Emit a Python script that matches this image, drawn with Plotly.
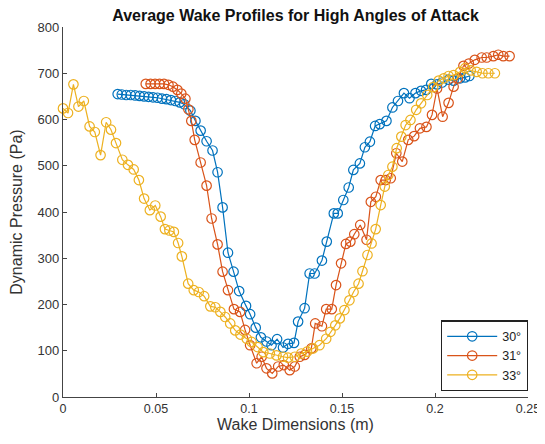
import plotly.graph_objects as go

# 30 deg series
x30 = [0.0294, 0.0316, 0.0340, 0.0364, 0.0388, 0.0412, 0.0436, 0.0460, 0.0484, 0.0508,
       0.0532, 0.0556, 0.0580, 0.0604, 0.0628, 0.0652, 0.0685, 0.0712, 0.0740, 0.0772,
       0.0804, 0.0831, 0.0858, 0.0887, 0.0917, 0.0947, 0.0984, 0.1006, 0.1036, 0.1064,
       0.1094, 0.1121, 0.1151, 0.1183, 0.1210, 0.1242, 0.1264, 0.1299, 0.1326, 0.1353,
       0.1392, 0.1418, 0.1456, 0.1477, 0.1507, 0.1536, 0.1561, 0.1596, 0.1623, 0.1650,
       0.1678, 0.1703, 0.1739, 0.1771, 0.1801, 0.1833, 0.1863, 0.1895, 0.1925, 0.1952,
       0.1980, 0.2011, 0.2038, 0.2073, 0.2100, 0.2135, 0.2162, 0.2185]
y30 = [655, 654, 653, 653, 652, 651, 650, 649, 648, 647,
       645, 644, 642, 640, 637, 633, 619, 597, 576, 553,
       533, 486, 410, 312, 271, 229, 197, 179, 150, 129,
       120, 112, 125, 107, 115, 117, 163, 192, 267, 267,
       295, 336, 397, 397, 426, 453, 491, 505, 540, 552,
       586, 590, 597, 626, 640, 657, 646, 657, 662, 664,
       677, 676, 680, 686, 684, 689, 691, 694]

# 31 deg series
x31 = [0.0445, 0.0471, 0.0495, 0.0519, 0.0543, 0.0567, 0.0591, 0.0615, 0.0636, 0.0658,
       0.0674, 0.0690, 0.0708, 0.0740, 0.0772, 0.0799, 0.0831, 0.0858, 0.0887, 0.0919,
       0.0952, 0.0979, 0.1006, 0.1041, 0.1068, 0.1094, 0.1125, 0.1157, 0.1187, 0.1219,
       0.1246, 0.1273, 0.1299, 0.1335, 0.1356, 0.1392, 0.1415, 0.1445, 0.1468, 0.1495,
       0.1521, 0.1545, 0.1566, 0.1598, 0.1632, 0.1655, 0.1682, 0.1708, 0.1735, 0.1762,
       0.1792, 0.1824, 0.1856, 0.1888, 0.1919, 0.1954, 0.1984, 0.2011, 0.2041, 0.2073,
       0.2100, 0.2123, 0.2153, 0.2182, 0.2214, 0.2251, 0.2278, 0.2314, 0.2340, 0.2367,
       0.2401]
y31 = [677, 677, 677, 677, 677, 675, 671, 664, 656, 645,
       622, 597, 556, 507, 457, 386, 330, 271, 231, 190,
       184, 145, 112, 73, 87, 62, 51, 66, 69, 58,
       66, 87, 91, 105, 159, 153, 190, 190, 242, 289,
       331, 336, 352, 372, 340, 422, 433, 469, 469, 473,
       527, 509, 556, 564, 581, 584, 610, 667, 606, 636,
       671, 689, 716, 721, 729, 734, 734, 737, 740, 737,
       737]

# 33 deg series
x33 = [0.0000, 0.0027, 0.0056, 0.0083, 0.0112, 0.0143, 0.0171, 0.0202, 0.0232, 0.0258,
       0.0285, 0.0319, 0.0349, 0.0380, 0.0408, 0.0436, 0.0467, 0.0496, 0.0525, 0.0548,
       0.0572, 0.0596, 0.0619, 0.0639, 0.0673, 0.0703, 0.0730, 0.0759, 0.0792, 0.0819,
       0.0846, 0.0872, 0.0899, 0.0926, 0.0954, 0.0988, 0.1014, 0.1046, 0.1077, 0.1112,
       0.1148, 0.1183, 0.1210, 0.1246, 0.1281, 0.1312, 0.1344, 0.1379, 0.1415, 0.1438,
       0.1464, 0.1488, 0.1513, 0.1540, 0.1562, 0.1589, 0.1610, 0.1637, 0.1659, 0.1681,
       0.1708, 0.1730, 0.1749, 0.1771, 0.1794, 0.1819, 0.1842, 0.1868, 0.1899, 0.1925,
       0.1958, 0.1990, 0.2020, 0.2047, 0.2073, 0.2100, 0.2135, 0.2162, 0.2192, 0.2224,
       0.2255, 0.2287, 0.2322]
y33 = [624, 614, 676, 628, 640, 585, 573, 523, 594, 578,
       549, 513, 502, 492, 469, 429, 404, 414, 390, 363,
       360, 357, 333, 304, 245, 231, 227, 218, 196, 194,
       184, 173, 159, 144, 135, 126, 119, 108, 97, 94,
       90, 87, 85, 87, 94, 98, 105, 112, 126, 141,
       155, 170, 188, 209, 227, 245, 272, 307, 332, 363,
       415, 455, 480, 498, 538, 563, 588, 599, 621, 635,
       653, 670, 684, 689, 694, 696, 703, 711, 706, 703,
       700, 700, 700]

series_names = ["30°", "31°", "33°"]
series_colors = ["#0072BD", "#D95319", "#EDB120"]

xtick_vals = [0, 0.05, 0.1, 0.15, 0.2, 0.25]
xtick_text = ["0", "0.05", "0.1", "0.15", "0.2", "0.25"]
ytick_vals = [0, 100, 200, 300, 400, 500, 600, 700, 800]

FONT = "Liberation Sans, Arial, sans-serif"

fig = go.Figure()
for xs, ys, name, col in zip([x30, x31, x33], [y30, y31, y33], series_names, series_colors):
    fig.add_trace(go.Scatter(
        x=xs, y=ys, name=name, mode="lines+markers",
        line=dict(color=col, width=1.2),
        marker=dict(symbol="circle-open", size=9.5, color=col, line=dict(width=1.2)),
        cliponaxis=False,
    ))

# page body adds an 8px offset; figure is sized to fill the rest of the window
fig.update_layout(
    width=537, height=436,
    margin=dict(l=55, r=17, t=19, b=47, autoexpand=False),
    paper_bgcolor="white", plot_bgcolor="white",
    font=dict(family=FONT, color="#333333"),
    title=dict(text="<b>Average Wake Profiles for High Angles of Attack</b>",
               xref="paper", x=0.5, xanchor="center",
               yref="container", y=0.995, yanchor="top",
               font=dict(size=16, color="#111111")),
    showlegend=True,
    legend=dict(x=1.0, xanchor="right", y=0.015, yanchor="bottom",
                bordercolor="#222222", borderwidth=1.2, bgcolor="white",
                font=dict(size=12.5, color="#222222"),
                itemwidth=50, tracegroupgap=0),
)
fig.update_xaxes(range=[0, 0.25], tickvals=xtick_vals, ticktext=xtick_text,
                 showline=True, linecolor="#444444", linewidth=1.2,
                 ticks="inside", ticklen=4, tickcolor="#444444",
                 showgrid=False, zeroline=False, automargin=True,
                 ticklabeloverflow="allow",
                 tickfont=dict(size=12.5, color="#333333"),
                 title=dict(text="Wake Dimensions (m)", standoff=3,
                            font=dict(size=16, color="#333333")))
fig.update_yaxes(range=[0, 800], tickvals=ytick_vals,
                 showline=True, linecolor="#444444", linewidth=1.2,
                 ticks="inside", ticklen=4, tickcolor="#444444",
                 showgrid=False, zeroline=False, automargin=False,
                 tickfont=dict(size=13, color="#333333"),
                 title=dict(text="Dynamic Pressure (Pa)",
                            font=dict(size=16, color="#333333")))

fig.write_html("out.html")
